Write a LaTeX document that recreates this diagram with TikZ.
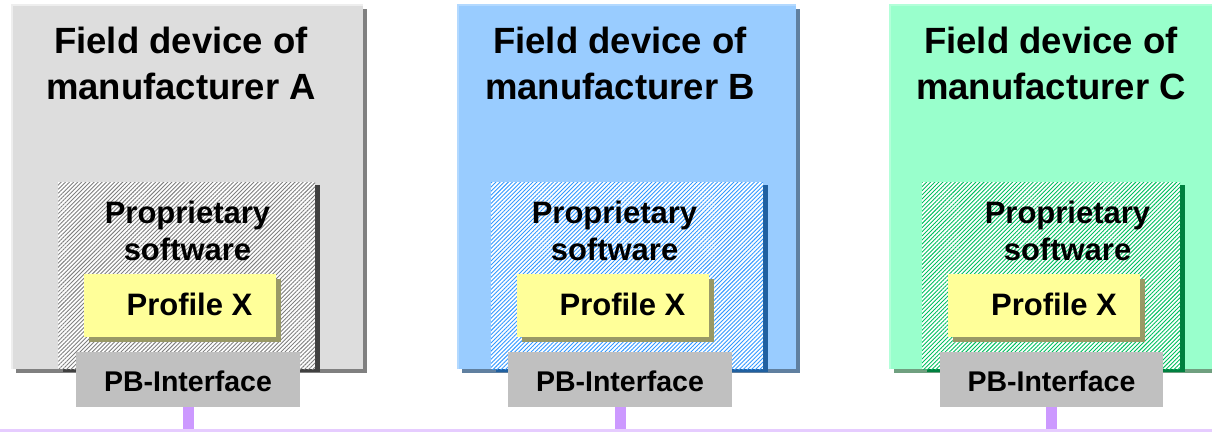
\documentclass[tikz,border=0pt]{standalone}
\usepackage{fontspec}
\setmainfont{Liberation Sans}
\usetikzlibrary{patterns.meta}
\definecolor{mainA}{HTML}{DDDDDD}\definecolor{shA}{HTML}{808080}\definecolor{hiA}{HTML}{EEEEEE}
\definecolor{hatA}{HTML}{808080}\definecolor{ishA}{HTML}{404040}
\definecolor{mainB}{HTML}{99CCFF}\definecolor{shB}{HTML}{6080A0}\definecolor{hiB}{HTML}{B3D9FF}
\definecolor{hatB}{HTML}{3399FF}\definecolor{ishB}{HTML}{2060A0}
\definecolor{mainC}{HTML}{99FFCC}\definecolor{shC}{HTML}{70A080}\definecolor{hiC}{HTML}{B3FFD9}
\definecolor{hatC}{HTML}{00C060}\definecolor{ishC}{HTML}{008040}
\definecolor{profFill}{HTML}{FFFF99}\definecolor{profSh}{HTML}{999966}
\definecolor{pbFill}{HTML}{C0C0C0}
\definecolor{conn}{HTML}{CC99FF}\definecolor{busC}{HTML}{E6CCFF}
\begin{document}
\begin{tikzpicture}[x=1pt,y=-1pt,
  box/.style={draw=none,inner sep=0pt,outer sep=0pt,anchor=north west},
  txt/.style={inner sep=0pt,anchor=base,font=\bfseries},
  titletxt/.style={txt,font=\fontsize{36.5}{44}\selectfont\bfseries},
  proptxt/.style={txt,font=\fontsize{31}{37}\selectfont\bfseries},
  proftxt/.style={txt,font=\fontsize{31}{37}\selectfont\bfseries},
  pbtxt/.style={txt,font=\fontsize{28.5}{34}\selectfont\bfseries},
  connector/.style={draw=conn,line width=11pt},
  busline/.style={draw=busC,line width=3pt}]
\useasboundingbox (0,0) rectangle (1212,432);
\foreach \n/\mx/\mw/\ix/\iw/\px/\bx/\bw/\tx/\prx/\ptx/\L in {
  A/12/351/58/257/84/76/224/181/187.5/189.5/A,
  B/458/338/491/272/517/508/224/620/614.5/622.5/B,
  C/890/340/922/258/948/940/223/1051/1067.5/1054/C}{
  % main box with shadow
  \fill[sh\n] (\mx+4,9) rectangle ++(\mw,364);
  \node[box,fill=main\n,minimum width=\mw pt,minimum height=364pt] (main\n) at (\mx,5) {};
  \draw[hi\n,line width=1.5pt] (main\n.south west) -- (main\n.north west) -- (main\n.north east);
  % inner hatched box
  \fill[ish\n] (\ix+5,185) rectangle ++(\iw,187);
  \node[box,fill=white,minimum width=\iw pt,minimum height=187pt] (inner\n) at (\ix,182) {};
  \fill[pattern={Lines[angle=45,distance=2.9pt,line width=0.9pt]},pattern color=hat\n]
     (inner\n.north west) rectangle (inner\n.south east);
  % profile box
  \fill[profSh] (\px+5,279) rectangle ++(192,63);
  \node[box,fill=profFill,minimum width=192pt,minimum height=63pt] (prof\n) at (\px,274) {};
  % PB interface
  \node[box,fill=pbFill,minimum width=\bw pt,minimum height=55pt] (pb\n) at (\bx,352) {};
  % texts
  \node[titletxt] (title1\n) at (\tx,53) {Field device of};
  \node[titletxt] (title2\n) at (\tx,99) {manufacturer \L};
  \node[proptxt] (prop1\n) at (\prx,223) {Proprietary};
  \node[proptxt] (prop2\n) at (\prx,260) {software};
  \node[proftxt] (proft\n) at (\ptx,315) {Profile X};
  \node[pbtxt] (pbt\n) at (pb\n.center |- 0,391) {PB-Interface};
}
\coordinate (busL) at (0,430.5);
\coordinate (busR) at (1212,430.5);
\foreach \n in {A,B,C}{
  \draw[connector] (pb\n.south) -- (pb\n.south |- busL);
}
\draw[busline] (busL) -- (busR);
\end{tikzpicture}
\end{document}
